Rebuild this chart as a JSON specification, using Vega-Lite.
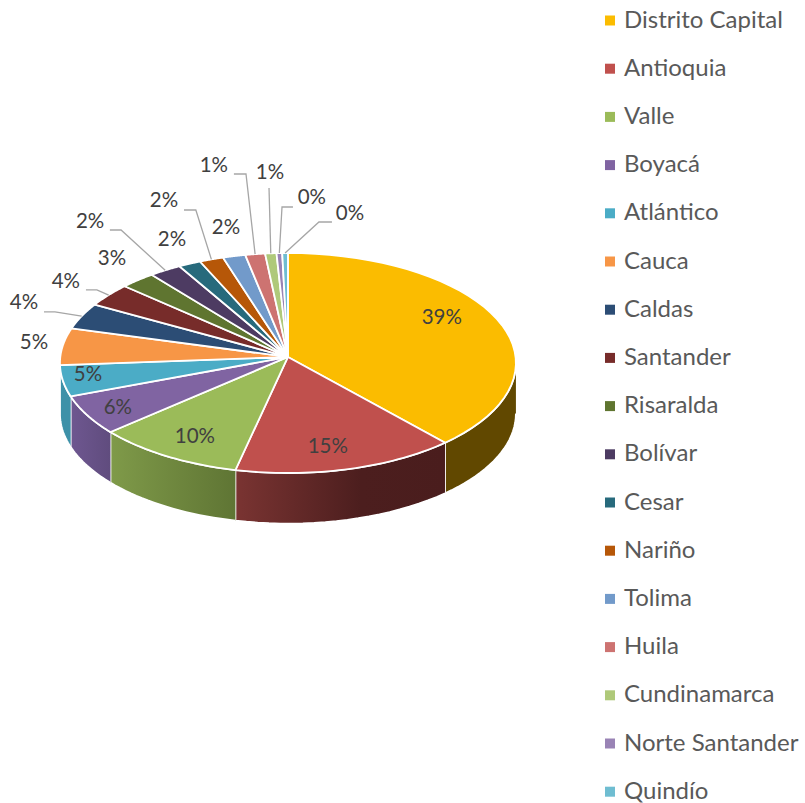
{
"$schema":"https://vega.github.io/schema/vega-lite/v6.json",
"width":805,"height":803,"padding":0,"autosize":{"type":"none"},
"background":"white",
"config":{"view":{"stroke":null},"font":"Lato"},
"data":{"values":[
{"name":"Distrito Capital","share":37.9,"label":"39%"},
{"name":"Antioquia","share":15.8,"label":"15%"},
{"name":"Valle","share":10.5,"label":"10%"},
{"name":"Boyacá","share":5.9,"label":"6%"},
{"name":"Atlántico","share":4.6,"label":"5%"},
{"name":"Cauca","share":5.4,"label":"5%"},
{"name":"Caldas","share":3.8,"label":"4%"},
{"name":"Santander","share":3.4,"label":"4%"},
{"name":"Risaralda","share":2.5,"label":"3%"},
{"name":"Bolívar","share":2.3,"label":"2%"},
{"name":"Cesar","share":1.6,"label":"2%"},
{"name":"Nariño","share":1.7,"label":"2%"},
{"name":"Tolima","share":1.6,"label":"2%"},
{"name":"Huila","share":1.4,"label":"1%"},
{"name":"Cundinamarca","share":0.8,"label":"1%"},
{"name":"Norte Santander","share":0.4,"label":"0%"},
{"name":"Quindío","share":0.4,"label":"0%"}
]},
"transform":[
{"window":[{"op":"sum","field":"share","as":"cum"},{"op":"row_number","as":"rank"}]},
{"calculate":"(datum.cum-datum.share)*3.6*PI/180","as":"a1"},
{"calculate":"datum.cum*3.6*PI/180","as":"a2"}
],
"encoding":{
"x":{"field":"px","type":"quantitative","scale":{"domain":[-1.263,2.268]},"axis":null},
"y":{"field":"py","type":"quantitative","scale":{"domain":[4,-3.3]},"axis":null}
},
"layer":[
{
"transform":[
{"calculate":"clamp(datum.a1,PI/2,3*PI/2)","as":"ta"},
{"calculate":"clamp(datum.a2,PI/2,3*PI/2)","as":"tb"},
{"filter":"datum.tb>datum.ta"},
{"calculate":"sequence(0,42)","as":"u"},
{"flatten":["u"]},
{"calculate":"datum.u<21?datum.ta+(datum.tb-datum.ta)*datum.u/20:datum.tb-(datum.tb-datum.ta)*(datum.u-21)/20","as":"t"},
{"calculate":"sin(datum.t)","as":"px"},
{"calculate":"-cos(datum.t)+(datum.u<21?0:0.46)","as":"py"}
],
"encoding":{"order":{"field":"u","type":"quantitative"}},
"layer":[
{"transform":[{"filter":"datum.rank==1"}],
 "mark":{"type":"line","filled":true,"stroke":"white","strokeWidth":1.8,"fill":"#614800"}},
{"transform":[{"filter":"datum.rank==2"}],
 "mark":{"type":"line","filled":true,"stroke":"white","strokeWidth":1.8,"fill":{"gradient":"linear","x1":0,"x2":1,"y1":0,"y2":0,"stops":[{"offset":0,"color":"#7A3432"},{"offset":0.6,"color":"#4C1E1E"},{"offset":1,"color":"#4A1D1D"}]}}},
{"transform":[{"filter":"datum.rank==3"}],
 "mark":{"type":"line","filled":true,"stroke":"white","strokeWidth":1.8,"fill":{"gradient":"linear","x1":0,"x2":1,"y1":0,"y2":0,"stops":[{"offset":0,"color":"#7F9A49"},{"offset":1,"color":"#5F7534"}]}}},
{"transform":[{"filter":"datum.rank==4"}],
 "mark":{"type":"line","filled":true,"stroke":"white","strokeWidth":1.8,"fill":{"gradient":"linear","x1":0,"x2":1,"y1":0,"y2":0,"stops":[{"offset":0,"color":"#6E5790"},{"offset":1,"color":"#604C7E"}]}}},
{"transform":[{"filter":"datum.rank==5"}],
 "mark":{"type":"line","filled":true,"stroke":"white","strokeWidth":1.8,"fill":"#3D91A8"}}
]
},
{
"transform":[
{"calculate":"sequence(0,42)","as":"u"},
{"flatten":["u"]},
{"calculate":"datum.a1+(datum.a2-datum.a1)*(datum.u-1)/39","as":"t"},
{"calculate":"datum.u==0||datum.u==41?0:sin(datum.t)","as":"px"},
{"calculate":"datum.u==0||datum.u==41?-0.055:-cos(datum.t)","as":"py"}
],
"mark":{"type":"line","filled":true,"stroke":"white","strokeWidth":1.8},
"encoding":{
"order":{"field":"u","type":"quantitative"},
"color":{"field":"name","type":"nominal","sort":null,
"scale":{"domain":["Distrito Capital","Antioquia","Valle","Boyacá","Atlántico","Cauca","Caldas","Santander","Risaralda","Bolívar","Cesar","Nariño","Tolima","Huila","Cundinamarca","Norte Santander","Quindío"],
"range":["#FBBC00","#C0504D","#9BBB59","#8064A2","#4BACC6","#F79646","#2C4D75","#772C2A","#5F7530","#4D3B62","#276A7C","#B65708","#729ACA","#CD7371","#AFC97A","#9983B5","#6FBDD1"]},
"legend":{"orient":"none","legendX":598,"legendY":8.5,"title":null,"symbolType":"square","symbolSize":100,"symbolStrokeWidth":0,"labelFontSize":24,"labelFont":"Lato","labelColor":"#595959","rowPadding":24.2,"labelOffset":2,"labelLimit":300}}
}
},
{
"transform":[
{"filter":{"field":"rank","oneOf":[7,8,10,12,14,15,16,17]}},
{"calculate":"(datum.a1+datum.a2)/2","as":"mid"},
{"calculate":"[0,1,2]","as":"k"},
{"flatten":["k"]},
{"calculate":"datum.k==0?sin(datum.mid):(datum.k==1?[0,0,0,0,0,0,-1.022,-0.838,0,-0.732,0,-0.404,0,-0.184,-0.083,-0.026,0.136][datum.rank-1]:[0,0,0,0,0,0,-1.07,-0.886,0,-0.781,0,-0.456,0,-0.237,-0.083,0.022,0.193][datum.rank-1])","as":"px"},
{"calculate":"datum.k==0?-cos(datum.mid):[0,0,0,0,0,0,-0.464,-0.664,0,-1.209,0,-1.391,0,-1.718,-1.591,-1.418,-1.282][datum.rank-1]","as":"py"}
],
"mark":{"type":"line","color":"#A6A6A6","strokeWidth":1.3},
"encoding":{
"detail":{"field":"name"},
"order":{"field":"k","type":"quantitative"}
}
},
{
"transform":[
{"calculate":"[0.675,0.175,-0.408,-0.746,-0.877,-1.114,-1.158,-0.974,-0.772,-0.868,-0.509,-0.544,-0.272,-0.325,-0.079,0.105,0.272][datum.rank-1]","as":"px"},
{"calculate":"[-0.409,0.764,0.673,0.409,0.109,-0.18,-0.545,-0.736,-0.945,-1.282,-1.118,-1.473,-1.227,-1.791,-1.727,-1.5,-1.355][datum.rank-1]","as":"py"}
],
"mark":{"type":"text","font":"Lato","fontSize":20.5,"color":"#404040"},
"encoding":{
"text":{"field":"label"}
}
}
]
}
